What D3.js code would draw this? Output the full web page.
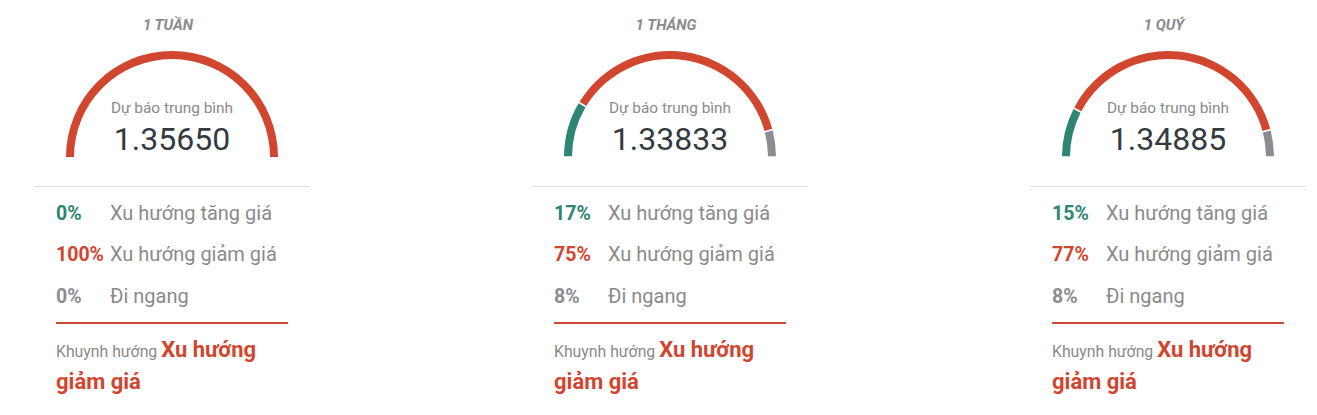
<!DOCTYPE html>
<html lang="vi">
<head>
  <meta charset="UTF-8">
  <title>Dự báo xu hướng</title>
  <script src="https://d3js.org/d3.v7.min.js"></script>
  <style>
    html, body { margin: 0; padding: 0; background: #fff; overflow: hidden; }
    svg { display: block; font-family: Roboto, "Noto Sans", sans-serif; }
    .title { font-size: 15px; font-style: italic; font-weight: 700; fill: #8a8a8a; }
    .sub { font-size: 15.4px; fill: #8a8a8a; }
    .avg { font-size: 32px; fill: #343a40; }
    .pct { font-size: 19.5px; font-weight: 700; }
    .lbl { font-size: 20px; fill: #8a8a8a; }
  </style>
</head>
<body>
  <svg id="chart"></svg>
  <script>
  // data
  const periods   = ["1 TUẦN", "1 THÁNG", "1 QUÝ"];
  const averages  = ["1.35650", "1.33833", "1.34885"];
  const upPct     = [0, 17, 15];
  const downPct   = [100, 75, 77];
  const sidePct   = [0, 8, 8];
  const trendText = ["Xu hướng giảm giá", "Xu hướng giảm giá", "Xu hướng giảm giá"];
  const rowLabels = ["Xu hướng tăng giá", "Xu hướng giảm giá", "Đi ngang"];

  const colors = { up: "#2e8571", down: "#d1462f", side: "#8c8c92" };

  const W = 1317, H = 415;
  const svg = d3.select("#chart").attr("width", W).attr("height", H);

  // panel centres
  const x = d3.scalePoint().domain(periods).range([172, 1168]);

  const pie = d3.pie().sort(null).value(d => d.v)
    .startAngle(-Math.PI / 2).endAngle(Math.PI / 2);
  const arc = d3.arc().innerRadius(98).outerRadius(106);

  periods.forEach((p, i) => {
    const cx = x(p);
    const g = svg.append("g").attr("transform", `translate(${cx},0)`);

    g.append("text").attr("class", "title")
      .attr("x", -4).attr("y", 30).attr("text-anchor", "middle").text(p);

    const parts = [
      { k: "up", v: upPct[i] },
      { k: "down", v: downPct[i] },
      { k: "side", v: sidePct[i] }
    ].filter(d => d.v > 0);

    g.append("g").attr("transform", "translate(0,157)")
      .selectAll("path").data(pie.padAngle(parts.length > 1 ? 0.012 : 0)(parts))
      .join("path").attr("d", arc).attr("fill", d => colors[d.data.k]);

    g.append("text").attr("class", "sub")
      .attr("y", 113).attr("text-anchor", "middle").text("Dự báo trung bình");
    g.append("text").attr("class", "avg")
      .attr("y", 150).attr("text-anchor", "middle").text(averages[i]);

    g.append("line").attr("x1", -138).attr("x2", 138)
      .attr("y1", 186.5).attr("y2", 186.5)
      .attr("stroke", "#dddddd").attr("stroke-width", 1);

    const rows = [
      { pct: upPct[i], c: colors.up },
      { pct: downPct[i], c: colors.down },
      { pct: sidePct[i], c: colors.side }
    ];
    const ry = [220, 261, 303];
    rows.forEach((r, j) => {
      g.append("text").attr("class", "pct").attr("fill", r.c)
        .attr("x", -116).attr("y", ry[j]).text(r.pct + "%");
      g.append("text").attr("class", "lbl")
        .attr("x", -62).attr("y", ry[j]).text(rowLabels[j]);
    });

    g.append("line").attr("x1", -116).attr("x2", 116)
      .attr("y1", 323).attr("y2", 323)
      .attr("stroke", colors.down).attr("stroke-width", 2);

    const words = trendText[i].split(" ");
    const t = g.append("text").attr("x", -116).attr("y", 357);
    t.append("tspan").attr("font-size", 15.8).attr("fill", "#8a8a8a").text("Khuynh hướng ");
    t.append("tspan").attr("font-size", 22).attr("font-weight", 700)
      .attr("fill", colors.down).text(words.slice(0, 2).join(" "));
    g.append("text").attr("x", -116).attr("y", 389)
      .attr("font-size", 22).attr("font-weight", 700).attr("fill", colors.down)
      .text(words.slice(2).join(" "));
  });
  </script>
</body>
</html>
